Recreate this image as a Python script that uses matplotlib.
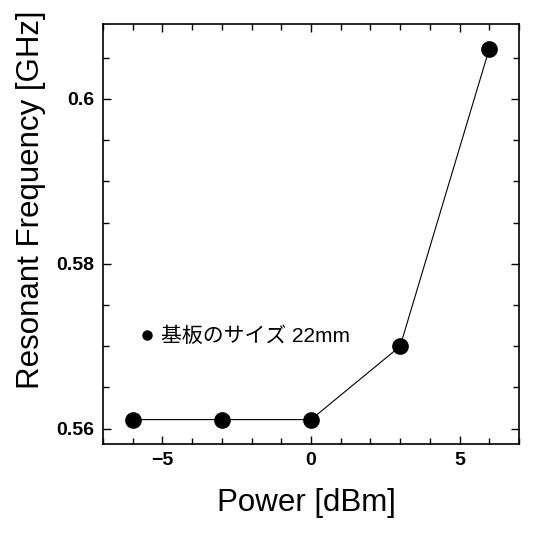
import numpy as np
import matplotlib
matplotlib.use("Agg")
import matplotlib.pyplot as plt
from matplotlib.ticker import MultipleLocator
from matplotlib.lines import Line2D

plt.rcParams['font.family'] = ['Liberation Sans', 'Noto Sans CJK JP', 'DejaVu Sans']

# data
power = [-6, -3, 0, 3, 6]
freq = [0.5611, 0.5611, 0.5611, 0.5700, 0.6061]
label = "基板のサイズ 22mm"

fig = plt.figure(figsize=(5.36, 5.34), dpi=100)
ax = fig.add_axes([103 / 536, 1 - 444 / 534, 416 / 536, 420 / 534])

ax.plot(power, freq, color='k', lw=0.8, marker='o', ms=11)

ax.set_xlim(-7, 7)
ax.set_ylim(0.55814, 0.6091)
ax.xaxis.set_major_locator(MultipleLocator(5))
ax.xaxis.set_minor_locator(MultipleLocator(1))
ax.yaxis.set_major_locator(MultipleLocator(0.02))
ax.yaxis.set_minor_locator(MultipleLocator(0.005))
ax.yaxis.set_major_formatter(plt.FuncFormatter(lambda v, p: ('%.2f' % v).rstrip('0')))
ax.xaxis.set_major_formatter(plt.FuncFormatter(lambda v, p: '%d' % v if v >= 0 else '\u2212%d' % -v))

ax.tick_params(which='both', direction='in', top=True, right=True, width=1)
ax.tick_params(which='major', length=6, labelsize=14, pad=6)
ax.tick_params(which='minor', length=4)
for t in ax.get_xticklabels() + ax.get_yticklabels():
    t.set_fontweight('bold')
for s in ax.spines.values():
    s.set_linewidth(1.2)

ax.set_xlabel('Power [dBm]', fontsize=22.5)
ax.set_ylabel('Resonant Frequency [GHz]', fontsize=22.5)
ax.xaxis.set_label_coords(0.49, -0.104)
ax.yaxis.set_label_coords(-0.137, 0.581)

h = Line2D([], [], color='k', marker='o', ls='none', ms=6.5)
leg = ax.legend([h], [label], loc='center left', bbox_to_anchor=(0.09, 0.257),
                frameon=False, handlelength=0.6, handletextpad=0.4, borderpad=0,
                borderaxespad=0,
                prop={'family': ['Liberation Sans', 'Noto Sans CJK JP'], 'size': 15})

fig.savefig('out.png', dpi=100)
